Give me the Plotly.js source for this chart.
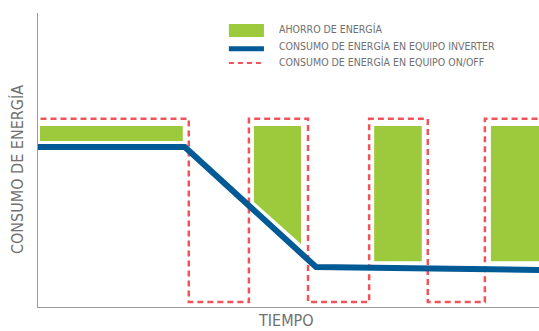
<!DOCTYPE html>
<html>
<head>
<meta charset="utf-8">
<script src="https://cdn.plot.ly/plotly-3.0.1.min.js"></script>
<style>html,body{margin:0;padding:0;background:#fff;}#chart{width:539px;height:331px;}</style>
</head>
<body>
<div id="chart"></div>
<script>
// Abstract time (0-100) and energy consumption (0-100) units
const onOffTime   = [0.5, 30.1, 30.1, 42.1, 42.1, 53.9, 53.9, 66.1, 66.1, 77.8, 77.8, 89.2, 89.2, 100];
const onOffEnergy = [64, 64, 1.7, 1.7, 64, 64, 1.7, 1.7, 64, 64, 1.7, 1.7, 64, 64];

const inverterTime   = [0, 29.3, 55.5, 100];
const inverterEnergy = [54.4, 54.4, 13.6, 12.6];

const savingTime = [
  [0.4, 28.9, 28.9, 0.4, 0.4],
  [43.1, 52.5, 52.5, 43.1, 43.1],
  [67.1, 76.6, 76.6, 67.1, 67.1],
  [90.4, 100, 100, 90.4, 90.4]
];
const savingEnergy = [
  [61.6, 61.6, 56.5, 56.5, 61.6],
  [61.6, 61.6, 21.4, 35.7, 61.6],
  [61.6, 61.6, 15.6, 15.6, 61.6],
  [61.6, 61.6, 15.6, 15.6, 61.6]
];

const legendLabels = [
  'AHORRO DE ENERGÍA',
  'CONSUMO DE ENERGÍA EN EQUIPO INVERTER',
  'CONSUMO DE ENERGÍA EN EQUIPO ON/OFF'
];
const xTitle = 'TIEMPO';
const yTitle = 'CONSUMO DE ENERGÍA';

const GREEN = '#9dca3c', BLUE = '#005a96', RED = '#f0535a', TEXT = '#707070';
const FONT = 'Liberation Sans Narrow, DejaVu Sans Condensed, Roboto, sans-serif';

const traces = [];
savingTime.forEach((xs, i) => {
  traces.push({x: xs, y: savingEnergy[i], type: 'scatter', mode: 'lines', fill: 'toself',
    fillcolor: GREEN, line: {width: 0, color: GREEN}, hoverinfo: 'skip', showlegend: false});
});
traces.push({x: onOffTime, y: onOffEnergy, type: 'scatter', mode: 'lines',
  line: {color: RED, width: 2.5, dash: '6px,4px'}, showlegend: false});
traces.push({x: inverterTime, y: inverterEnergy, type: 'scatter', mode: 'lines',
  line: {color: BLUE, width: 6}, showlegend: false});

const layout = {
  width: 539, height: 331,
  margin: {l: 38, r: 0, t: 13, b: 24, pad: 0},
  paper_bgcolor: '#fff', plot_bgcolor: '#fff',
  xaxis: {range: [0, 100], showgrid: false, zeroline: false, showticklabels: false, ticks: '',
    showline: true, linecolor: '#9a9a9a', linewidth: 1, fixedrange: true},
  yaxis: {range: [0, 100], showgrid: false, zeroline: false, showticklabels: false, ticks: '',
    showline: true, linecolor: '#9a9a9a', linewidth: 1, fixedrange: true},
  shapes: [
    {type: 'rect', xref: 'paper', yref: 'paper', x0: 0.381, x1: 0.451, y0: 0.918, y1: 0.963,
      fillcolor: GREEN, line: {width: 0}},
    {type: 'line', xref: 'paper', yref: 'paper', x0: 0.381, x1: 0.451, y0: 0.878, y1: 0.878,
      line: {color: BLUE, width: 5}},
    {type: 'line', xref: 'paper', yref: 'paper', x0: 0.381, x1: 0.451, y0: 0.830, y1: 0.830,
      line: {color: RED, width: 2, dash: '5px,4px'}}
  ],
  annotations: [
    {xref: 'paper', yref: 'paper', x: 0.477, y: 0.946, xanchor: 'left', yanchor: 'middle',
      text: legendLabels[0], showarrow: false, font: {family: FONT, size: 10.5, color: TEXT}},
    {xref: 'paper', yref: 'paper', x: 0.477, y: 0.889, xanchor: 'left', yanchor: 'middle',
      text: legendLabels[1], showarrow: false, font: {family: FONT, size: 10.5, color: TEXT}},
    {xref: 'paper', yref: 'paper', x: 0.477, y: 0.834, xanchor: 'left', yanchor: 'middle',
      text: legendLabels[2], showarrow: false, font: {family: FONT, size: 10.5, color: TEXT}},
    {xref: 'paper', yref: 'paper', x: 0.495, y: -0.0476, xanchor: 'center', yanchor: 'middle',
      text: xTitle, showarrow: false, font: {family: FONT, size: 16, color: TEXT}},
    {xref: 'paper', yref: 'paper', x: -0.042, y: 0.469, xanchor: 'center', yanchor: 'middle',
      text: yTitle, textangle: -90, showarrow: false, font: {family: FONT, size: 16, color: TEXT}}
  ],
  showlegend: false
};

Plotly.newPlot('chart', traces, layout, {staticPlot: true, displayModeBar: false});
</script>
</body>
</html>
